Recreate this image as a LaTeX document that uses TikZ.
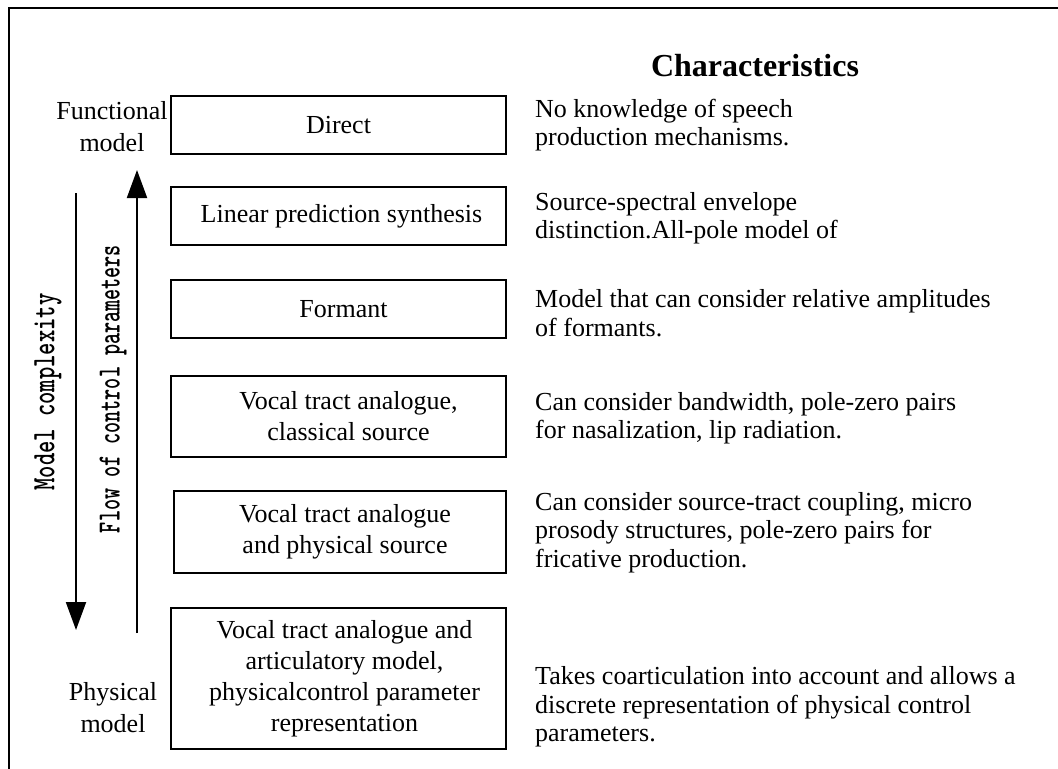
\documentclass[tikz,border=0pt]{standalone}
\usepackage{fontspec}
\setmainfont{Liberation Serif}
\usetikzlibrary{arrows.meta}
\begin{document}
\begin{tikzpicture}[x=1bp,y=-1bp,
  box/.style={draw,line width=2bp,minimum width=335bp,inner sep=0pt,align=center,font=\fontsize{26bp}{31bp}\selectfont},
  desc/.style={anchor=west,inner sep=0pt,align=left,font=\fontsize{26bp}{28.5bp}\selectfont},
  side/.style={inner sep=0pt,align=center,font=\fontsize{26bp}{32bp}\selectfont},
  bigarrow/.style={line width=2bp,-{Triangle[length=28bp,width=20bp]}},
  vlabel/.style={rotate=90,inner sep=0pt,font=\ttfamily\bfseries\fontsize{31bp}{31bp}\selectfont}
]
\useasboundingbox (0,0) rectangle (1058,769);
\draw[line width=2.5bp] (1058,8) -- (9,8) -- (9,769);

\node[box,minimum height=58bp] (b1) at (338.5,125) {Direct};
\node[box,minimum height=58bp] (b2) at (338.5,216) {\hspace*{6bp}Linear prediction synthesis};
\node[box,minimum height=58bp] (b3) at (338.5,309) {\hspace*{10bp}Formant};
\node[box,minimum height=81bp] (b4) at (338.5,416.5) {\hspace*{20bp}Vocal tract analogue,\\\hspace*{20bp}classical source};
\node[box,minimum width=332bp,minimum height=82bp] (b5) at (340,532) {\hspace*{10bp}Vocal tract analogue\\\hspace*{10bp}and physical source};
\node[box,minimum height=141bp] (b6) at (338.5,678.5) {\hspace*{12bp}Vocal tract analogue and\\\hspace*{12bp}articulatory model,\\\hspace*{12bp}physicalcontrol parameter\\\hspace*{12bp}representation};

\node[inner sep=0pt,anchor=base,font=\bfseries\fontsize{32bp}{32bp}\selectfont] (ch) at (755,77) {Characteristics};
\node[desc] (d1) at (535,125) {No knowledge of speech\\production mechanisms.};
\node[desc] (d2) at (535,218) {Source-spectral envelope\\distinction.All-pole model of};
\node[desc] (d3) at (535,313) {Model that can consider relative amplitudes\\of formants.};
\node[desc] (d4) at (535,418) {Can consider bandwidth, pole-zero pairs\\for nasalization, lip radiation.};
\node[desc] (d5) at (535,532.5) {Can consider source-tract coupling, micro\\prosody structures, pole-zero pairs for\\fricative production.};
\node[desc] (d6) at (535,707) {Takes coarticulation into account and allows a\\discrete representation of physical control\\parameters.};

\node[side] (fm) at (112,127) {Functional\\model};
\node[side] (pm) at (113,708) {Physical\\model};

\coordinate (mcS) at (76,193);
\coordinate (mcE) at (76,630);
\draw[bigarrow] (mcS) -- (mcE);
\coordinate (fcS) at (137,633);
\coordinate (fcE) at (137,170);
\draw[bigarrow] (fcS) -- (fcE);

\node[vlabel] (mc) at (48,392) {\resizebox{197bp}{20bp}{Model complexity}};
\node[vlabel] (fc) at (113,389) {\resizebox{288bp}{20bp}{Flow of control parameters}};
\end{tikzpicture}
\end{document}
